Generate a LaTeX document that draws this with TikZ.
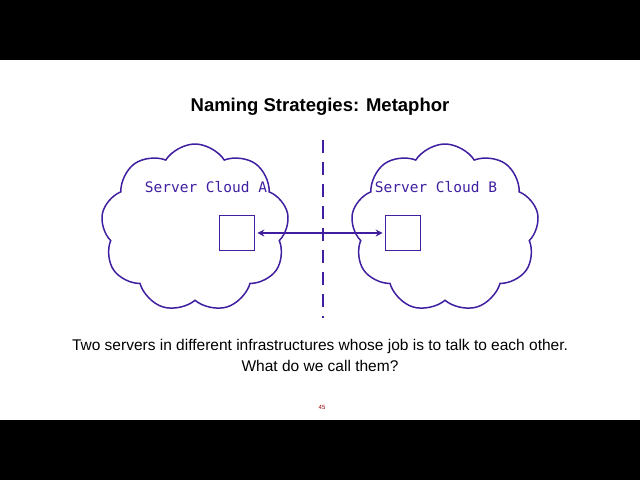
\documentclass[tikz,border=0pt]{standalone}
\usepackage{fontspec}
\setmainfont{Liberation Sans}
\setmonofont{DejaVu Sans Mono}
\usetikzlibrary{shapes.symbols,arrows.meta}
\definecolor{ink}{HTML}{3F1FA0}
\begin{document}
\begin{tikzpicture}[x=1pt,y=-1pt,
  cl/.style={cloud,cloud puffs=9,cloud puff arc=115,aspect=1.15,draw=ink,line width=1.5pt,minimum width=188pt,minimum height=168pt},
  box/.style={draw=ink,line width=1.6pt,minimum size=35pt,inner sep=0},
  lbl/.style={font=\ttfamily\fontsize{14.5}{16}\selectfont,text=ink}]
\useasboundingbox (0,0) rectangle (640,480);
\fill[black] (0,0) rectangle (640,60);
\fill[black] (0,420) rectangle (640,480);
\node[font=\bfseries\fontsize{18.5}{22}\selectfont] (title) at (320,107) {Naming Strategies: Metaphor};
\node[cl] (ca) at (195,228) {};
\node[cl] (cb) at (445,228) {};
\draw[ink,line width=1.5pt,dash pattern=on 13pt off 9pt] (323,140) coordinate (d1) -- (323,318) coordinate (d2);
\node[lbl] (la) at (206,187) {Server Cloud A};
\node[lbl] (lb) at (436,187) {Server Cloud B};
\node[box] (sa) at (237,233) {};
\node[box] (sb) at (403,233) {};
\draw[ink,line width=1.5pt,{Stealth[length=7pt,width=7pt]}-{Stealth[length=7pt,width=7pt]}] ([xshift=2pt]sa.east) -- ([xshift=-2pt]sb.west);
\node[font=\fontsize{15.5}{21}\selectfont,align=center] (cap) at (320,355) {Two servers in different infrastructures whose job is to talk to each other.\\What do we call them?};
\node[font=\fontsize{6}{7}\selectfont,text=red!60!black] (pg) at (322,407) {45};
\end{tikzpicture}
\end{document}
